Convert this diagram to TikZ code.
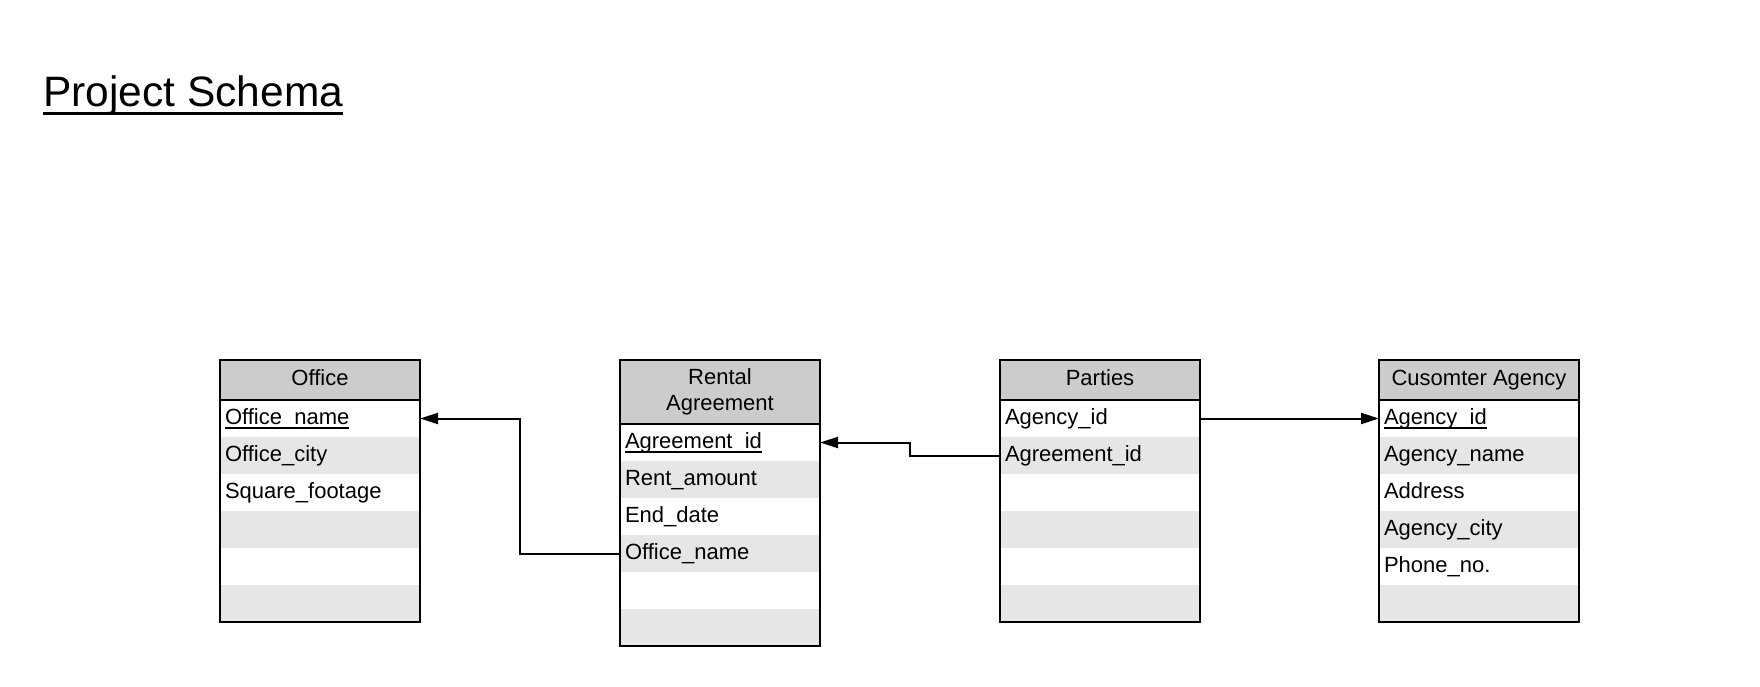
\documentclass[tikz,border=0pt]{standalone}
\usepackage{fontspec}
\setmainfont{Liberation Sans}
\usetikzlibrary{arrows.meta,positioning}
\definecolor{headgray}{HTML}{CCCCCC}
\definecolor{rowgray}{HTML}{E6E6E6}
% underline with own thickness: #1 top below baseline, #2 bottom below baseline
\newcommand{\keyul}[3]{\setbox0=\hbox{#3}\rlap{\vrule height -#1 depth #2 width \wd0}\box0}
\tikzset{tblhead/.style={fill=headgray, minimum width=200pt, minimum height=40pt, inner sep=0pt, outer sep=0pt, align=center, text depth=5pt}}
\tikzset{rowa/.style={fill=white, minimum width=200pt, minimum height=37pt, text width=190pt, inner xsep=5pt, inner ysep=0pt, outer sep=0pt, align=left, text height=16pt, text depth=4.6pt}}
\tikzset{rowb/.style={rowa, fill=rowgray}}
\tikzset{frame/.style={draw=black, line width=2pt}}
\tikzset{fk/.style={draw=black, line width=2pt, -{Triangle[length=18pt,width=11pt]}}}

\begin{document}
\begin{tikzpicture}[x=1pt, y=-1pt, font=\fontsize{22}{26}\selectfont]
    \useasboundingbox (0,0) rectangle (1760,686);
    \node[anchor=base west, inner sep=0pt, font=\fontsize{42.5}{50}\selectfont] (title) at (43,106) {\keyul{5.5pt}{8.5pt}{Project Schema}};

    % Office
    \node[tblhead] (of) at (320,380) {Office};
    \node[rowa, below=0pt of of] (of1) {\keyul{3pt}{4.5pt}{Office\_name}};
    \node[rowb, below=0pt of of1] (of2) {Office\_city};
    \node[rowa, below=0pt of of2] (of3) {Square\_footage};
    \node[rowb, below=0pt of of3] (of4) {};
    \node[rowa, below=0pt of of4] (of5) {};
    \node[rowb, below=0pt of of5] (of6) {};
    \draw[frame] (of.north west) rectangle (of6.south east);
    \draw[frame] (of.south west) -- (of.south east);

    % Rental Agreement
    \node[tblhead, minimum height=64pt] (ra) at (720,392) {Rental\\Agreement};
    \node[rowa, below=0pt of ra] (ra1) {\keyul{3pt}{4.5pt}{Agreement\_id}};
    \node[rowb, below=0pt of ra1] (ra2) {Rent\_amount};
    \node[rowa, below=0pt of ra2] (ra3) {End\_date};
    \node[rowb, below=0pt of ra3] (ra4) {Office\_name};
    \node[rowa, below=0pt of ra4] (ra5) {};
    \node[rowb, below=0pt of ra5] (ra6) {};
    \draw[frame] (ra.north west) rectangle (ra6.south east);
    \draw[frame] (ra.south west) -- (ra.south east);

    % Parties
    \node[tblhead] (pa) at (1100,380) {Parties};
    \node[rowa, below=0pt of pa] (pa1) {Agency\_id};
    \node[rowb, below=0pt of pa1] (pa2) {Agreement\_id};
    \node[rowa, below=0pt of pa2] (pa3) {};
    \node[rowb, below=0pt of pa3] (pa4) {};
    \node[rowa, below=0pt of pa4] (pa5) {};
    \node[rowb, below=0pt of pa5] (pa6) {};
    \draw[frame] (pa.north west) rectangle (pa6.south east);
    \draw[frame] (pa.south west) -- (pa.south east);

    % Cusomter Agency
    \node[tblhead] (ca) at (1479,380) {Cusomter Agency};
    \node[rowa, below=0pt of ca] (ca1) {\keyul{3pt}{4.5pt}{Agency\_id}};
    \node[rowb, below=0pt of ca1] (ca2) {Agency\_name};
    \node[rowa, below=0pt of ca2] (ca3) {Address};
    \node[rowb, below=0pt of ca3] (ca4) {Agency\_city};
    \node[rowa, below=0pt of ca4] (ca5) {Phone\_no.};
    \node[rowb, below=0pt of ca5] (ca6) {};
    \draw[frame] (ca.north west) rectangle (ca6.south east);
    \draw[frame] (ca.south west) -- (ca.south east);

    % foreign keys
    \draw[fk] (ra4.west) -- ++(-100,0) |- (of1.east);
    \draw[fk] (pa2.west) -- ++(-90,0) |- (ra1.east);
    \draw[fk] (pa1.east) -- (ca1.west);
\end{tikzpicture}
\end{document}
